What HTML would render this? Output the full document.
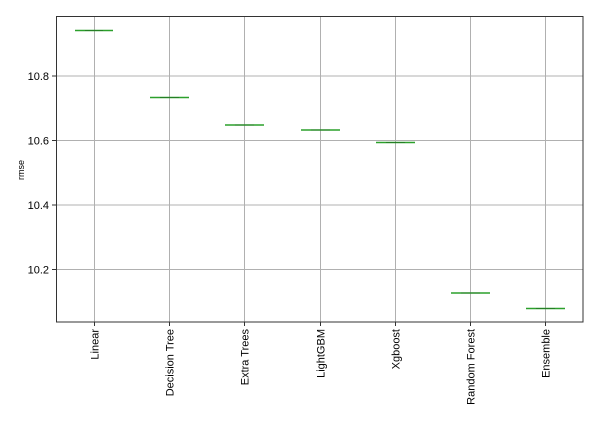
<!DOCTYPE html>
<html><head><style>body{margin:0;background:#fff}</style></head><body>
<svg width="600" height="420" xmlns="http://www.w3.org/2000/svg" font-family="Liberation Sans, DejaVu Sans, sans-serif">
<rect width="600" height="420" fill="#fff"/>
<g stroke="#b0b0b0" stroke-width="1">
<line x1="94.5" y1="17" x2="94.5" y2="322"/><line x1="169.5" y1="17" x2="169.5" y2="322"/><line x1="244.5" y1="17" x2="244.5" y2="322"/><line x1="320.5" y1="17" x2="320.5" y2="322"/><line x1="395.5" y1="17" x2="395.5" y2="322"/><line x1="470.5" y1="17" x2="470.5" y2="322"/><line x1="545.5" y1="17" x2="545.5" y2="322"/>
<line x1="56" y1="76" x2="583" y2="76"/><line x1="56" y1="140.5" x2="583" y2="140.5"/><line x1="56" y1="205" x2="583" y2="205"/><line x1="56" y1="269.5" x2="583" y2="269.5"/>
</g>
<g stroke="#2ca02c" stroke-width="1.5">
<line x1="75" y1="30.5" x2="113" y2="30.5"/><line x1="150" y1="97.5" x2="189" y2="97.5"/><line x1="225" y1="125" x2="264" y2="125"/><line x1="301" y1="130" x2="340" y2="130"/><line x1="376" y1="142.5" x2="415" y2="142.5"/><line x1="451" y1="293" x2="490" y2="293"/><line x1="526" y1="308.5" x2="565" y2="308.5"/>
</g>
<g stroke="#1f5f1f" stroke-width="1" opacity="0.5">
<line x1="85" y1="30.5" x2="103" y2="30.5"/><line x1="160" y1="97.5" x2="179" y2="97.5"/><line x1="235" y1="125" x2="254" y2="125"/><line x1="311" y1="130" x2="330" y2="130"/><line x1="386" y1="142.5" x2="405" y2="142.5"/><line x1="461" y1="293" x2="480" y2="293"/><line x1="536" y1="308.5" x2="555" y2="308.5"/>
</g>
<rect x="56.5" y="16.5" width="526.5" height="305.5" fill="none" stroke="#333" stroke-width="1"/>
<g stroke="#333"><line x1="52" y1="76" x2="56" y2="76"/><line x1="52" y1="140.5" x2="56" y2="140.5"/><line x1="52" y1="205" x2="56" y2="205"/><line x1="52" y1="269.5" x2="56" y2="269.5"/>
<line x1="94.5" y1="322" x2="94.5" y2="326"/><line x1="169.5" y1="322" x2="169.5" y2="326"/><line x1="244.5" y1="322" x2="244.5" y2="326"/><line x1="320.5" y1="322" x2="320.5" y2="326"/><line x1="395.5" y1="322" x2="395.5" y2="326"/><line x1="470.5" y1="322" x2="470.5" y2="326"/><line x1="545.5" y1="322" x2="545.5" y2="326"/></g>
<g font-size="11" text-anchor="end" fill="#000">
<text x="49" y="80">10.8</text><text x="49" y="144.5">10.6</text><text x="49" y="209">10.4</text><text x="49" y="273.5">10.2</text>
</g>
<text transform="translate(24,170) rotate(-90)" font-size="9" text-anchor="middle">rmse</text>
<g font-size="11" text-anchor="end">
<text transform="translate(98.5,329) rotate(-90)">Linear</text>
<text transform="translate(173.5,329) rotate(-90)">Decision Tree</text>
<text transform="translate(248.5,329) rotate(-90)">Extra Trees</text>
<text transform="translate(324.5,329) rotate(-90)">LightGBM</text>
<text transform="translate(399.5,329) rotate(-90)">Xgboost</text>
<text transform="translate(474.5,329) rotate(-90)">Random Forest</text>
<text transform="translate(549.5,329) rotate(-90)">Ensemble</text>
</g>
</svg>
</body></html>
